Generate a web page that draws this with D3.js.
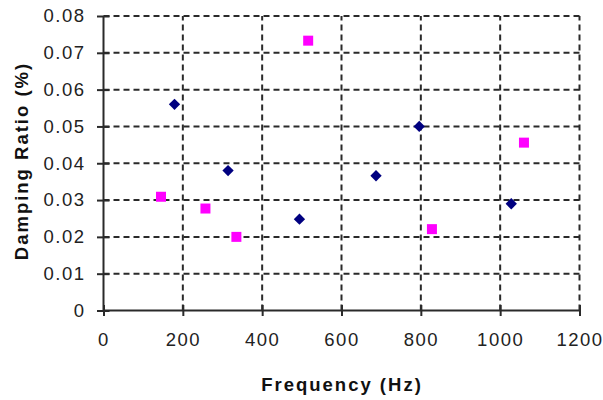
<!DOCTYPE html>
<html>
<head>
<meta charset="utf-8">
<script src="https://cdn.jsdelivr.net/npm/d3@7"></script>
<style>
  html, body { margin: 0; padding: 0; background: #fff; }
  svg { display: block; font-family: Arial, "Liberation Sans", sans-serif; }
</style>
</head>
<body>
<svg class="chart"></svg>
<script>
// series: frequency (Hz) and damping ratio (%)
const seriesA_freq = [179, 314, 494, 687, 796, 1028];
const seriesA_damp = [0.0560, 0.0380, 0.0248, 0.0366, 0.0500, 0.0290];
const seriesB_freq = [145, 257, 335, 516, 828, 1060];
const seriesB_damp = [0.0309, 0.0277, 0.0200, 0.0733, 0.0221, 0.0456];

const x_ticks = [0, 200, 400, 600, 800, 1000, 1200];
const y_ticks = [0, 0.01, 0.02, 0.03, 0.04, 0.05, 0.06, 0.07, 0.08];

const width = 603, height = 400;
const grid_color = '#2a2a2a';

const svg = d3.select('.chart')
  .attr('width', width)
  .attr('height', height);

const x = d3.scaleLinear().domain([0, 1200]).range([103.5, 579.5]);
const y = d3.scaleLinear().domain([0, 0.08]).range([310.5, 16]);

// dashed grid
svg.append('g')
  .selectAll('line')
  .data(y_ticks.slice(1))
  .enter()
  .append('line')
  .attr('x1', x(0)).attr('x2', x(1200))
  .attr('y1', d => y(d)).attr('y2', d => y(d))
  .attr('stroke', grid_color)
  .attr('stroke-width', 2)
  .attr('stroke-dasharray', '6,4');

svg.append('g')
  .selectAll('line')
  .data(x_ticks.slice(1))
  .enter()
  .append('line')
  .attr('x1', d => x(d)).attr('x2', d => x(d))
  .attr('y1', y(0)).attr('y2', y(0.08))
  .attr('stroke', grid_color)
  .attr('stroke-width', 2)
  .attr('stroke-dasharray', '6,4');

// axes (ticks cross the axis line)
const x_axis = d3.axisBottom(x)
  .tickValues(x_ticks)
  .tickSize(5.5)
  .tickPadding(17)
  .tickFormat(d3.format('d'));

const y_axis = d3.axisLeft(y)
  .tickValues(y_ticks)
  .tickSize(6)
  .tickPadding(12)
  .tickFormat(d => d === 0 ? '0' : d3.format('.2f')(d));

const gx = svg.append('g')
  .attr('transform', 'translate(0,' + y(0) + ')')
  .call(x_axis);

const gy = svg.append('g')
  .attr('transform', 'translate(' + x(0) + ',0)')
  .call(y_axis);

[gx, gy].forEach(g => {
  g.select('.domain').attr('stroke', grid_color).attr('stroke-width', 2);
  g.selectAll('.tick line').attr('stroke', grid_color).attr('stroke-width', 2);
  g.selectAll('.tick text')
    .attr('fill', '#222')
    .style('font-size', '18.5px')
    .style('letter-spacing', '1.5px')
    .style('font-family', 'Arial, "Liberation Sans", sans-serif');
});
gx.select('.domain').attr('d', 'M' + x(0) + ',0H' + x(1200));
gy.select('.domain').attr('d', 'M0,' + y(0.08) + 'V' + y(0));
gx.selectAll('.tick line').attr('y1', -5.5);
gy.selectAll('.tick line').attr('x2', -6.5).attr('x1', 6);

// axis titles
svg.append('text')
  .attr('x', 342)
  .attr('y', 391)
  .attr('text-anchor', 'middle')
  .style('font-size', '18.5px')
  .style('font-weight', 'bold')
  .style('letter-spacing', '2px')
  .attr('fill', '#111')
  .text('Frequency (Hz)');

svg.append('text')
  .attr('transform', 'translate(27.5,161) rotate(-90)')
  .attr('text-anchor', 'middle')
  .style('font-size', '18.5px')
  .style('font-weight', 'bold')
  .style('letter-spacing', '2px')
  .attr('fill', '#111')
  .text('Damping Ratio (%)');

// diamonds
const diamond = d3.symbol().type(d3.symbolSquare).size(64);
svg.append('g')
  .selectAll('path')
  .data(d3.zip(seriesA_freq, seriesA_damp))
  .enter()
  .append('path')
  .attr('d', diamond)
  .attr('transform', d => 'translate(' + x(d[0]) + ',' + y(d[1]) + ') rotate(45)')
  .attr('fill', '#000080');

// squares
const square = d3.symbol().type(d3.symbolSquare).size(100);
svg.append('g')
  .selectAll('path')
  .data(d3.zip(seriesB_freq, seriesB_damp))
  .enter()
  .append('path')
  .attr('d', square)
  .attr('transform', d => 'translate(' + x(d[0]) + ',' + y(d[1]) + ')')
  .attr('fill', '#ff00ff');
</script>
</body>
</html>
